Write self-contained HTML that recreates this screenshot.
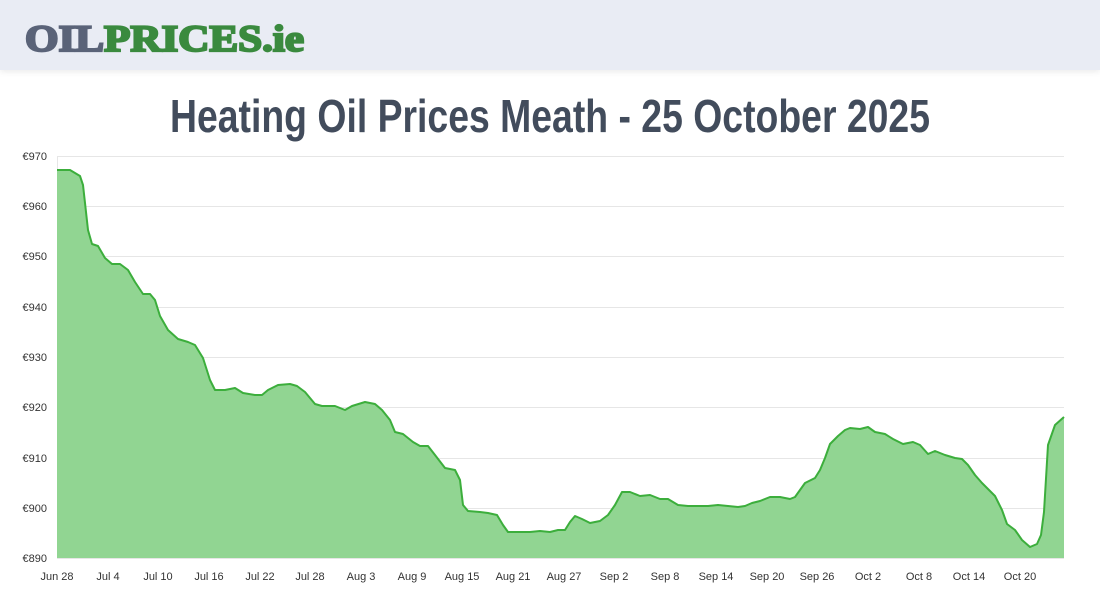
<!DOCTYPE html>
<html><head><meta charset="utf-8"><style>
html,body{margin:0;padding:0;width:1100px;height:600px;overflow:hidden;background:#fff;}
.hdr{position:absolute;left:0;top:0;width:1100px;height:70px;background:#e9ecf4;box-shadow:0 2px 6px rgba(0,0,0,0.08);}
</style></head><body>
<div class="hdr"></div>
<svg width="1100" height="600" style="position:absolute;left:0;top:0" font-family="Liberation Sans, sans-serif">
<text x="25" y="51" font-family="Liberation Serif, serif" font-weight="bold" font-size="37" stroke-width="2.2" textLength="279" lengthAdjust="spacingAndGlyphs"><tspan fill="#5a6378" stroke="#5a6378">OIL</tspan><tspan fill="#3a8a3e" stroke="#3a8a3e">PRICES.ie</tspan></text>
<text x="550" y="132" text-anchor="middle" font-family="Liberation Sans Narrow, Liberation Sans, sans-serif" font-weight="bold" font-size="46" fill="#424c5c" textLength="760" lengthAdjust="spacingAndGlyphs">Heating Oil Prices Meath - 25 October 2025</text>
<g stroke="#e6e6e6" stroke-width="1">
<line x1="57" x2="1064" y1="156.5" y2="156.5"/><line x1="57" x2="1064" y1="206.5" y2="206.5"/><line x1="57" x2="1064" y1="256.5" y2="256.5"/><line x1="57" x2="1064" y1="307.5" y2="307.5"/><line x1="57" x2="1064" y1="357.5" y2="357.5"/><line x1="57" x2="1064" y1="407.5" y2="407.5"/><line x1="57" x2="1064" y1="458.5" y2="458.5"/><line x1="57" x2="1064" y1="508.5" y2="508.5"/><line x1="57" x2="1064" y1="558.5" y2="558.5"/>
<line x1="57.5" x2="57.5" y1="156" y2="558"/>
</g>
<path fill="#91d592" stroke="none" d="M57,558 L57,170 L70,170 L80,176 L83,185 L88,230 L92,244 L98,246 L105,258 L112,264 L120,264 L128,270 L135,282 L143,294 L150,294 L155,300 L160,316 L168,330 L178,339 L188,342 L195,345 L203,358 L210,380 L215,390 L225,390 L235,388 L243,393 L255,395 L262,395 L268,390 L278,385 L290,384 L297,386 L305,392 L315,404 L322,406 L335,406 L345,410 L352,406 L365,402 L375,404 L382,410 L390,420 L395,432 L403,434 L413,442 L420,446 L428,446 L435,455 L445,468 L455,470 L460,480 L463,505 L468,511 L480,512 L488,513 L497,515 L503,525 L508,532 L520,532 L530,532 L540,531 L550,532 L558,530 L565,530 L570,522 L575,516 L582,519 L590,523 L600,521 L608,515 L615,505 L622,492 L630,492 L640,496 L650,495 L660,499 L668,499 L678,505 L688,506 L698,506 L708,506 L718,505 L728,506 L738,507 L745,506 L752,503 L760,501 L770,497 L780,497 L790,499 L795,497 L800,490 L805,483 L815,478 L820,470 L825,458 L830,444 L838,436 L845,430 L850,428 L860,429 L868,427 L875,432 L885,434 L893,439 L903,444 L913,442 L920,445 L928,454 L935,451 L945,455 L955,458 L962,459 L968,465 L975,475 L982,483 L990,491 L995,496 L1002,510 L1007,524 L1015,530 L1022,540 L1030,547 L1037,544 L1041,535 L1044,512 L1048,445 L1055,425 L1064,417 L1064,558 Z"/>
<path fill="none" stroke="#3cae3c" stroke-width="2" stroke-linejoin="round" d="M57,170 L70,170 L80,176 L83,185 L88,230 L92,244 L98,246 L105,258 L112,264 L120,264 L128,270 L135,282 L143,294 L150,294 L155,300 L160,316 L168,330 L178,339 L188,342 L195,345 L203,358 L210,380 L215,390 L225,390 L235,388 L243,393 L255,395 L262,395 L268,390 L278,385 L290,384 L297,386 L305,392 L315,404 L322,406 L335,406 L345,410 L352,406 L365,402 L375,404 L382,410 L390,420 L395,432 L403,434 L413,442 L420,446 L428,446 L435,455 L445,468 L455,470 L460,480 L463,505 L468,511 L480,512 L488,513 L497,515 L503,525 L508,532 L520,532 L530,532 L540,531 L550,532 L558,530 L565,530 L570,522 L575,516 L582,519 L590,523 L600,521 L608,515 L615,505 L622,492 L630,492 L640,496 L650,495 L660,499 L668,499 L678,505 L688,506 L698,506 L708,506 L718,505 L728,506 L738,507 L745,506 L752,503 L760,501 L770,497 L780,497 L790,499 L795,497 L800,490 L805,483 L815,478 L820,470 L825,458 L830,444 L838,436 L845,430 L850,428 L860,429 L868,427 L875,432 L885,434 L893,439 L903,444 L913,442 L920,445 L928,454 L935,451 L945,455 L955,458 L962,459 L968,465 L975,475 L982,483 L990,491 L995,496 L1002,510 L1007,524 L1015,530 L1022,540 L1030,547 L1037,544 L1041,535 L1044,512 L1048,445 L1055,425 L1064,417"/>
<g font-size="11" fill="#333" text-anchor="end">
<text x="47" y="160">€970</text><text x="47" y="210">€960</text><text x="47" y="260">€950</text><text x="47" y="311">€940</text><text x="47" y="361">€930</text><text x="47" y="411">€920</text><text x="47" y="462">€910</text><text x="47" y="512">€900</text><text x="47" y="562">€890</text>
</g>
<g font-size="11" fill="#333" text-anchor="middle">
<text x="57" y="580">Jun 28</text><text x="108" y="580">Jul 4</text><text x="158" y="580">Jul 10</text><text x="209" y="580">Jul 16</text><text x="260" y="580">Jul 22</text><text x="310" y="580">Jul 28</text><text x="361" y="580">Aug 3</text><text x="412" y="580">Aug 9</text><text x="462" y="580">Aug 15</text><text x="513" y="580">Aug 21</text><text x="564" y="580">Aug 27</text><text x="614" y="580">Sep 2</text><text x="665" y="580">Sep 8</text><text x="716" y="580">Sep 14</text><text x="767" y="580">Sep 20</text><text x="817" y="580">Sep 26</text><text x="868" y="580">Oct 2</text><text x="919" y="580">Oct 8</text><text x="969" y="580">Oct 14</text><text x="1020" y="580">Oct 20</text>
</g>
</svg>
</body></html>
